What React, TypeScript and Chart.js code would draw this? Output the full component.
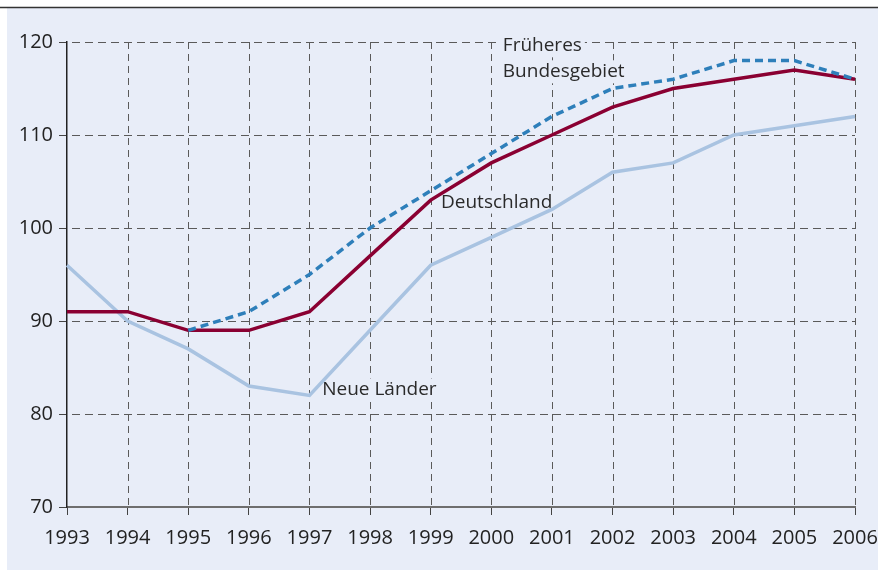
import React, { useEffect, useRef } from "react";
import { Chart, registerables } from "chart.js";

Chart.register(...registerables);

const years = ["1993","1994","1995","1996","1997","1998","1999","2000","2001","2002","2003","2004","2005","2006"];
const deutschland = [91, 91, 89, 89, 91, 97, 103, 107, 110, 113, 115, 116, 117, 116];
const fruehBund = [null, null, 89, 91, 95, 100, 104, 108, 112, 115, 116, 118, 118, 116];
const neueLaender = [96, 90, 87, 83, 82, 89, 96, 99, 102, 106, 107, 110, 111, 112];
const yTicks = [70, 80, 90, 100, 110, 120];

// annotation labels: anchor in data units (fractional category index, value)
const seriesLabels = [
  { lines: ["Früheres", "Bundesgebiet"], x: 7.19, y: 119.0 },
  { lines: ["Deutschland"], x: 6.17, y: 102.2 },
  { lines: ["Neue Länder"], x: 4.21, y: 82.0 },
];

const BG = "#e8edf8";
const FONT = "'Open Sans', 'Noto Sans', sans-serif";
const FONT_SIZE = 19;
const TICK_SIZE = 20;

const panelPlugin = {
  id: "panel",
  beforeDraw(chart: any) {
    const ctx = chart.ctx;
    ctx.save();
    ctx.fillStyle = "#ffffff";
    ctx.fillRect(0, 0, chart.width, chart.height);
    ctx.fillStyle = BG;
    ctx.fillRect(7, 8, chart.width - 7, chart.height - 9);
    ctx.strokeStyle = "#333333";
    ctx.lineWidth = 1.6;
    ctx.beginPath();
    ctx.moveTo(0, 7.5);
    ctx.lineTo(chart.width, 7.5);
    ctx.stroke();
    ctx.restore();
  },
  beforeDatasetsDraw(chart: any) {
    const ctx = chart.ctx;
    const xs = chart.scales.x;
    const ys = chart.scales.y;
    const area = chart.chartArea;
    ctx.save();
    ctx.strokeStyle = "#5a5a5a";
    ctx.lineWidth = 1;
    ctx.setLineDash([7, 5]);
    for (let i = 1; i < years.length; i++) {
      const px = Math.round(xs.getPixelForValue(i)) + 0.5;
      ctx.beginPath();
      ctx.moveTo(px, area.top);
      ctx.lineTo(px, area.bottom);
      ctx.stroke();
    }
    ctx.setLineDash([8, 5]);
    for (let i = 1; i < yTicks.length; i++) {
      const py = Math.round(ys.getPixelForValue(yTicks[i])) + 0.5;
      ctx.beginPath();
      ctx.moveTo(area.left + 5, py);
      ctx.lineTo(area.right, py);
      ctx.stroke();
    }
    ctx.setLineDash([]);
    ctx.font = `${FONT_SIZE}px ${FONT}`;
    ctx.textBaseline = "alphabetic";
    ctx.textAlign = "left";
    const lh = 26;
    for (const lab of seriesLabels) {
      const px = xs.getPixelForValue(lab.x);
      const py = ys.getPixelForValue(lab.y);
      lab.lines.forEach((t, k) => {
        const w = ctx.measureText(t).width;
        const by = py + k * lh;
        ctx.fillStyle = BG;
        ctx.fillRect(px - 3, by - 17, w + 6, 23);
      });
      lab.lines.forEach((t, k) => {
        ctx.fillStyle = "#2a2a2a";
        ctx.fillText(t, px, py + k * lh);
      });
    }
    ctx.restore();
  },
};

export default function App() {
  const ref = useRef<HTMLCanvasElement | null>(null);
  useEffect(() => {
    if (!ref.current) return;
    const chart = new Chart(ref.current, {
      type: "line",
      data: {
        labels: years,
        datasets: [
          { label: "Neue Länder", data: neueLaender, borderColor: "#a9c3e1", borderWidth: 3.5, pointRadius: 0, tension: 0, order: 3 },
          { label: "Deutschland", data: deutschland, borderColor: "#8a0032", borderWidth: 3.5, pointRadius: 0, tension: 0, order: 2 },
          { label: "Früheres Bundesgebiet", data: fruehBund, borderColor: "#2e7fba", borderWidth: 3.5, borderDash: [8, 5], pointRadius: 0, tension: 0, order: 1 },
        ],
      },
      options: {
        animation: false,
        responsive: false,
        maintainAspectRatio: false,
        devicePixelRatio: 1,
        layout: { padding: { left: 0, right: 23, top: 42, bottom: 0 } },
        plugins: { legend: { display: false }, tooltip: { enabled: false } },
        scales: {
          x: {
            type: "category",
            offset: false,
            afterFit: (s: any) => { s.height = 64; s.paddingLeft = 0; s.paddingRight = 0; },
            grid: { display: true, drawOnChartArea: false, drawTicks: true, tickLength: 8, tickColor: "#444444", tickWidth: 1 },
            border: { display: true, color: "#6e6e6e", width: 2 },
            ticks: { color: "#222222", font: { family: FONT, size: TICK_SIZE }, padding: 11, maxRotation: 0, autoSkip: false },
          },
          y: {
            type: "linear",
            min: 70,
            max: 120,
            afterFit: (s: any) => { s.width = 67; s.paddingTop = 0; s.paddingBottom = 0; },
            afterBuildTicks: (s: any) => { s.ticks = yTicks.map((v) => ({ value: v })); },
            grid: { display: true, drawOnChartArea: false, drawTicks: true, tickLength: 8, tickColor: "#444444", tickWidth: 1 },
            border: { display: true, color: "#222222", width: 1.5 },
            ticks: { color: "#222222", font: { family: FONT, size: TICK_SIZE }, padding: 6 },
          },
        },
      },
      plugins: [panelPlugin],
    });
    return () => chart.destroy();
  }, []);
  return (
    <div style={{ position: "absolute", left: 0, top: 0, width: 878, height: 571 }}>
      <canvas ref={ref} width={878} height={571} style={{ width: 878, height: 571, display: "block" }} />
    </div>
  );
}
